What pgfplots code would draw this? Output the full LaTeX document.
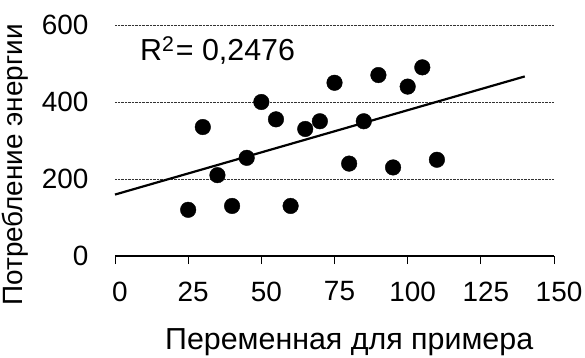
\documentclass[border=0pt]{standalone}
\usepackage{pgfplots}
\pgfplotsset{compat=1.18}
\usepackage{fontspec}
\setmainfont{Liberation Sans}
\begin{document}
\begin{tikzpicture}[x=1bp,y=1bp]
\begin{axis}[
  at={(115bp,101bp)}, anchor=south west,
  scale only axis, width=439bp, height=231bp,
  xmin=0, xmax=150, ymin=0, ymax=600,
  xtick={0,25,...,150}, ytick={0,200,400,600},
  axis x line*=bottom, axis y line*=left,
  y axis line style={draw=none},
  x axis line style={line width=1.4bp, black},
  ymajorgrids, major grid style={densely dotted, line width=0.8bp, black!80},
  tick align=outside,
  xtick style={black, line width=1bp}, major tick length=8bp,
  ytick style={draw=none},
  tick label style={font=\fontsize{28}{30}\selectfont},
  /pgf/number format/assume math mode=true,
  yticklabel style={xshift=-15bp},
  xticklabel style={xshift=5bp, yshift=-14bp},
  xlabel={Переменная для примера},
  ylabel={Потребление энергии},
  every axis x label/.style={at={(rel axis cs:0.1139,-0.4069)}, anchor=base west, inner sep=0pt, font=\fontsize{30.5}{33}\selectfont},
  every axis y label/.style={at={(rel axis cs:-0.2118,-0.215)}, rotate=90, anchor=base west, inner sep=0pt, font=\fontsize{28}{31}\selectfont},
  clip=false,
]
\addplot[black, line width=2.2bp] coordinates {(0,159.6) (140,466.4)};
\addplot[only marks, mark=*, mark size=7.8bp, black] coordinates {
(25,120) (30,335) (35,210) (40,130) (45,255) (50,400) (55,355) (60,130) (65,330)
(70,350) (75,450) (80,240) (85,350) (90,470) (95,230) (100,440) (105,490) (110,250)
};
\node[anchor=base west, inner sep=0pt, font=\fontsize{30.5}{33}\selectfont] at (axis cs:8.5,509) {R\textsuperscript{2}\kern1.5bp= 0,2476};
\end{axis}
\pgfresetboundingbox
\path (0,0) rectangle (585,357);
\end{tikzpicture}
\end{document}
